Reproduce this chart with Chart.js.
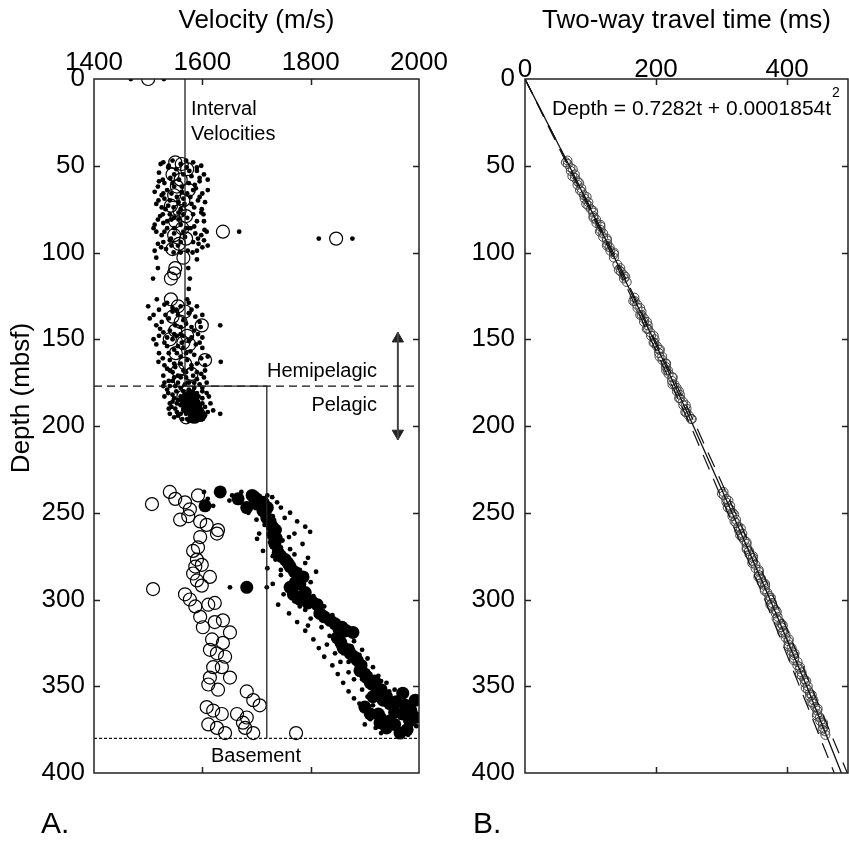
<!DOCTYPE html>
<html>
<head>
<meta charset="utf-8">
<script src="https://cdn.jsdelivr.net/npm/chart.js@4"></script>
<style>
  body { margin: 0; background: #fff; }
  #wrapA { position: absolute; left: 0; top: 0; width: 460px; height: 846px; }
  #wrapB { position: absolute; left: 440px; top: 0; width: 409px; height: 846px; }
</style>
</head>
<body>
<div id="wrapA"><canvas id="velChart" width="460" height="846"></canvas></div>
<div id="wrapB"><canvas id="twtChart" width="409" height="846"></canvas></div>
<script>
// ---- panel A data: [velocity m/s, depth mbsf] ----
var smallDots = [
  [1468,0],[1529,0],
  [1528,48],[1545,47],[1560,49],[1583,48],[1598,50],[1537,51],[1552,52],[1571,51],[1590,53],[1520,54],[1565,55],[1580,56],[1603,55],
  [1541,57],[1557,58],[1595,59],[1530,60],[1575,60],[1523,49],[1570,47],[1590,51],[1548,55],[1610,58],[1527,58],[1586,61],[1562,62],
  [1518,62],[1548,62],[1588,63],[1535,64],[1562,65],[1600,66],[1525,67],[1553,68],[1578,68],[1540,70],[1592,70],[1515,72],[1567,72],
  [1547,74],[1585,74],[1532,75],[1512,65],[1572,66],[1595,68],[1530,69],[1605,71],[1556,71],[1525,74],[1560,75],[1599,75],
  [1556,77],[1598,77],[1522,79],[1572,80],[1543,81],[1590,82],[1512,84],[1560,84],[1535,86],[1578,86],[1604,87],[1548,89],[1525,90],
  [1568,91],[1592,92],[1540,93],[1583,94],[1518,95],[1555,96],[1600,97],[1533,98],[1573,99],[1547,100],[1540,78],[1583,78],[1518,81],
  [1556,81],[1603,82],[1528,83],[1565,88],[1587,89],[1515,88],[1542,92],[1603,93],[1524,97],[1560,100],[1590,99],
  [1538,50],[1576,53],[1595,57],[1520,59],[1545,60],[1583,64],[1528,66],[1610,64],[1543,66],[1565,69],[1519,70],[1580,72],[1537,73],
  [1602,78],[1527,78],[1565,78],[1548,80],[1535,82],[1585,85],[1510,86],[1548,86],[1570,86],[1530,88],[1598,90],[1560,94],[1528,94],
  [1593,95],[1543,96],[1512,99],[1582,100],
  [1668,88],[1815,92],[1877,92],[1608,88],[1610,96],
  [1515,103],[1590,104],[1518,109],[1574,109],[1509,115],[1577,115],[1575,121],[1516,127],[1572,127],
  [1530,130],[1560,131],[1590,131],[1520,133],[1545,134],[1575,135],[1503,138],[1538,138],[1565,139],[1595,140],[1515,142],[1550,142],
  [1580,143],[1633,142],[1528,146],[1560,147],[1592,147],[1510,150],[1545,150],[1575,151],[1535,154],[1565,155],[1600,155],[1520,158],
  [1553,158],[1585,159],[1540,162],[1572,162],[1634,163],[1605,165],[1530,165],
  [1545,132],[1580,133],[1510,136],[1555,136],[1600,136],[1525,140],[1570,141],[1540,145],[1585,145],[1520,148],[1553,148],[1600,149],
  [1530,152],[1562,152],[1588,153],[1548,156],[1578,157],[1610,160],[1527,161],[1560,160],[1548,164],[1590,164],
  [1535,129],[1575,129],[1500,131],[1552,133],[1587,137],[1532,136],[1560,143],[1597,143],[1522,144],[1548,147],[1580,149],[1565,148],
  [1535,149],[1515,153],[1595,152],[1555,154],[1538,158],[1570,158],[1598,161],[1519,163],[1560,164],[1580,165],
  [1550,166],[1580,167],[1545,169],[1570,169],[1598,170],[1528,171],[1560,172],[1590,173],[1538,174],[1575,175],[1608,175],[1550,177],
  [1585,178],[1535,179],[1565,180],[1600,180],[1545,182],[1578,183],[1612,183],[1555,185],[1592,186],[1540,187],[1570,188],[1605,189],
  [1550,190],[1585,191],[1620,191],[1560,193],[1598,194],[1633,193],[1572,196],[1548,195],[1590,197],
  [1535,167],[1565,168],[1605,168],[1555,171],[1583,171],[1545,174],[1568,176],[1595,176],[1528,177],[1560,178],[1575,179],[1590,181],
  [1530,183],[1560,183],[1600,184],[1570,185],[1545,186],[1585,187],[1615,187],[1560,188],[1595,189],[1538,190],[1575,191],[1565,191],
  [1610,192],[1580,193],[1555,194],[1600,196],[1575,197],
  [1540,168],[1590,169],[1570,172],[1548,172],[1603,172],[1530,175],[1555,175],[1585,175],[1540,177],[1600,178],[1552,180],[1582,180],
  [1537,181],[1608,181],[1567,182],[1548,184],[1593,183],[1575,186],[1553,187],[1600,187],[1543,189],[1580,189],[1565,190],[1590,190],
  [1553,192],[1605,194],[1570,193],[1585,196],[1563,196],[1540,193],
  [1603,238],[1610,242],[1620,246],
  [1655,240],[1672,238],[1700,239],[1720,240],[1729,241],[1650,243],[1710,245],[1745,247],[1685,250],[1762,250],[1730,252],[1700,254],
  [1775,255],[1715,257],[1790,258],[1740,259],[1799,261],[1705,262],[1760,264],[1701,265],[1725,267],[1785,268],[1745,270],[1712,272],
  [1770,274],[1795,276],[1735,277],[1755,280],[1720,282],[1780,283],[1810,284],[1745,286],[1765,289],[1730,291],[1651,293],[1719,293],
  [1790,294],[1750,297],[1805,298],[1770,301],[1740,303],[1825,304],[1790,306],[1760,308],[1840,309],[1800,311],[1775,313],[1855,314],
  [1820,316],[1790,318],[1870,318],[1835,321],[1805,323],[1880,324],[1850,326],[1815,328],[1895,329],[1860,331],[1825,333],[1905,334],
  [1870,336],[1840,338],[1915,339],[1885,341],[1850,343],[1925,344],[1895,346],[1860,348],[1940,348],[1910,351],[1870,353],[1955,352],
  [1925,355],[1880,357],[1970,356],[1945,359],[1890,360],[1990,360],[1960,363],[1900,364],[1985,365],[1935,367],[1910,369],[1975,370],
  [1950,372],[1920,374],[1995,373],[1960,376],[1930,377],[1980,378],
  [1690,243],[1738,244],[1752,253],[1722,262],[1770,262],[1748,266],[1730,275],[1762,271],[1790,279],[1745,283],[1773,287],[1800,290],
  [1760,293],[1785,299],[1815,301],[1780,304],[1810,309],[1830,312],[1795,315],[1845,318],[1860,322],[1830,326],[1875,327],[1845,331],
  [1890,332],[1855,336],[1900,337],[1870,342],[1910,343],[1880,346],[1930,347],[1895,352],[1945,353],[1905,356],[1960,358],[1915,361],
  [1975,363],[1925,364],[1945,369],[1965,368],[1900,372],[1985,375]
];

var openCircles = [
  [1500,0],
  [1550,48],[1562,49],[1572,52],[1545,55],[1560,58],[1553,62],[1575,64],[1548,67],[1565,70],[1542,73],[1558,76],[1570,79],[1550,82],
  [1563,86],[1638,88],[1847,92],[1548,90],[1570,92],[1557,95],[1545,98],[1565,103],[1550,109],[1542,115],[1548,112],[1542,127],
  [1555,131],[1568,134],[1545,137],[1560,140],[1599,142],[1550,145],[1572,148],[1540,150],[1565,152],[1576,153],[1551,158],[1605,162],
  [1568,164],[1555,168],[1580,170],[1560,174],[1575,178],[1565,183],[1585,190],[1570,195],
  [1507,245],[1509,294],[1540,238],[1550,242],[1568,244],[1592,240],[1577,248],[1559,254],[1574,252],[1596,255],[1608,257],[1629,260],
  [1627,262],[1596,264],[1592,270],[1583,272],[1590,277],[1587,281],[1599,280],[1583,285],[1590,289],[1614,287],[1599,292],[1568,297],
  [1577,300],[1587,304],[1596,310],[1611,303],[1623,302],[1601,316],[1623,313],[1638,312],[1651,319],[1618,323],[1638,325],[1614,329],
  [1627,331],[1642,333],[1620,339],[1636,339],[1651,345],[1614,345],[1611,349],[1629,352],[1682,353],[1694,358],[1706,361],[1608,362],
  [1620,364],[1636,366],[1664,366],[1682,368],[1611,372],[1627,374],[1642,377],[1675,371],[1679,374],[1694,377],[1773,377]
];

var bigDots = [
  [1578,183],[1583,186],[1588,189],[1592,192],[1596,194],[1574,190],[1585,195],[1570,186],
  [1633,238],[1605,246],[1666,242],[1692,240],[1682,247],[1701,245],[1712,249],[1719,253],[1725,255],[1729,258],[1731,263],[1734,268],
  [1740,273],[1753,277],[1762,281],[1786,287],[1775,289],[1762,293],[1682,293],[1768,297],[1780,300],[1795,302],[1812,303],[1817,308],
  [1836,312],[1858,316],[1878,319],[1849,322],[1860,328],[1873,331],[1886,335],[1891,341],[1904,345],[1910,348],[1922,351],[1915,356],
  [1934,358],[1946,360],[1970,354],[1993,358],[1993,368],[1970,366],[1946,370],[1928,371],[1965,377],[1983,370],[1910,366],[1900,362],
  [1955,365],
  [1700,242],[1712,244],[1720,247],[1735,260],[1737,265],[1745,275],[1758,279],[1770,284],[1780,291],[1790,296],[1802,301],[1825,310],
  [1845,314],[1866,318],[1856,325],[1870,329],[1880,333],[1893,338],[1900,343],[1918,347],[1930,352],[1940,356],[1958,359],[1975,361],
  [1985,364],[1955,372],[1940,374],[1925,366],[1978,375]
];

// interval velocity steps and annotation lines
var intervalVel = [[1568,0],[1568,177],[1719,177],[1719,380]];
var hemiBoundary = [[1400,177],[2000,177]];
var basementLine = [[1400,380],[2000,380]];
var arrowShaft = [[1961,146],[1961,208]];
var arrowHeads = [[1961,149.7],[1961,204.3]];

// ---- panel B data ----
var twtDepth = [
  47,49,51,53,55,57,59,61,63,65,67,69,71,73,75,77,79,81,83,85,87,89,91,93,95,97,99,101,103,
  107,109,111,113,115,117,
  126,128,130,132,134,136,138,140,142,144,146,148,150,152,154,156,158,160,162,164,166,168,170,172,174,176,178,180,
  182,184,186,188,190,192,194,196,
  238,240,242,244,246,248,250,252,254,256,258,260,262,264,266,268,270,272,274,276,278,280,282,284,286,288,290,292,
  294,296,298,300,302,304,306,308,310,312,314,316,318,320,322,324,326,328,330,332,334,336,338,340,342,344,346,348,
  350,352,354,356,358,360,362,364,366,368,370,372,374,376,378,
  48,52,56,60,64,68,72,76,80,84,88,92,96,100,110,114,128,132,136,140,144,148,152,156,160,164,168,172,176,180,184,188,192,196,
  239,243,247,251,255,259,263,267,271,275,279,283,287,291,295,299,303,307,311,315,319,323,327,331,335,339,343,347,351,355,
  359,363,367,371,375
];
var twtTime = [
  64.8,65.4,69.3,69.9,76.0,76.3,80.2,80.1,86.0,86.5,89.9,91.1,96.7,96.6,100.6,104.0,104.6,108.5,109.1,115.2,115.5,119.3,119.2,
  125.2,125.7,129.1,130.3,135.9,135.7,
  141.0,145.5,146.2,150.6,151.0,155.2,
  167.0,167.4,171.2,171.7,177.8,178.0,181.7,181.6,187.4,187.8,191.2,192.3,197.8,197.5,201.3,204.4,204.6,209.3,209.8,214.6,
  214.9,218.2,219.2,224.6,224.4,228.1,231.4,231.8,236.5,236.9,241.1,241.6,246.6,246.3,250.1,253.3,
  303.0,303.4,307.1,307.4,313.3,313.3,316.9,316.5,322.1,322.4,325.5,326.4,331.7,331.3,335.0,338.1,338.4,342.0,342.6,347.7,
  348.2,351.7,351.9,357.2,356.9,360.3,361.2,366.5,366.1,369.8,372.9,373.2,377.1,377.3,382.2,382.7,385.7,386.2,391.5,391.0,
  394.6,397.6,397.8,401.8,402.5,406.9,407.3,410.3,410.9,416.1,415.7,419.2,422.2,422.5,426.4,427.2,431.5,431.8,434.7,435.2,
  440.3,439.7,443.1,446.0,446.2,450.0,450.6,454.8,455.1,458.1,458.5,
  62.4,72.9,72.3,82.8,83.8,94.0,93.5,104.0,104.5,114.9,114.3,124.8,125.0,135.7,143.1,153.1,165.2,175.7,175.9,186.2,185.8,196.5,
  196.2,206.0,205.3,215.4,215.5,225.6,225.0,235.0,235.2,245.3,244.6,254.6,
  300.5,310.5,309.5,319.4,319.8,329.4,328.4,338.2,338.2,348.0,346.8,356.7,356.3,366.5,365.9,375.4,374.4,384.3,383.9,393.6,
  392.7,402.8,402.0,411.4,410.3,420.0,419.7,429.4,428.4,437.7,437.2,446.7,445.4,454.8,454.1
];
// fitted curve and its bounds, read at these depths
var fitDepth = [0,50,100,150,200,250,300,350,400];
var fitTime = [0,67.5,132.8,196,257,316,374,430,483];
var boundDepth = [0,100,200,300,400];
var lowerTime = [0,130.8,253,366,472];
var upperTime = [0,134.8,261,381,492];

var FONT = '"Liberation Sans", Arial, Helvetica, sans-serif';
Chart.defaults.font.family = FONT;
Chart.defaults.color = '#000';

function pts(arr) { return arr.map(function (p) { return {x: p[0], y: p[1]}; }); }
function zip(xs, ys) { return xs.map(function (v, i) { return {x: v, y: ys[i]}; }); }

// frame with inward tick marks on all four sides
var frameTicks = {
  id: 'frameTicks',
  afterDraw: function (chart) {
    var ctx = chart.ctx, a = chart.chartArea, x = chart.scales.x, y = chart.scales.y;
    ctx.save();
    ctx.strokeStyle = '#222';
    ctx.lineWidth = 1.5;
    ctx.strokeRect(a.left, a.top, a.right - a.left, a.bottom - a.top);
    ctx.beginPath();
    x.ticks.forEach(function (t) {
      if (t.value <= x.min || t.value >= x.max) return;
      var px = Math.round(x.getPixelForValue(t.value)) + 0.5;
      ctx.moveTo(px, a.top); ctx.lineTo(px, a.top + 6);
      ctx.moveTo(px, a.bottom); ctx.lineTo(px, a.bottom - 6);
    });
    y.ticks.forEach(function (t) {
      if (t.value <= y.min || t.value >= y.max) return;
      var py = Math.round(y.getPixelForValue(t.value)) + 0.5;
      ctx.moveTo(a.left, py); ctx.lineTo(a.left + 6, py);
      ctx.moveTo(a.right, py); ctx.lineTo(a.right - 6, py);
    });
    ctx.stroke();
    ctx.restore();
  }
};

var textA = {
  id: 'textA',
  afterDraw: function (chart) {
    var ctx = chart.ctx, a = chart.chartArea;
    ctx.save();
    ctx.fillStyle = '#000';
    ctx.textBaseline = 'alphabetic';
    ctx.font = '26px ' + FONT;
    ctx.textAlign = 'center';
    ctx.fillText('Velocity (m/s)', (a.left + a.right) / 2, 28);
    ctx.save();
    ctx.translate(29, 398);
    ctx.rotate(-Math.PI / 2);
    ctx.fillText('Depth (mbsf)', 0, 0);
    ctx.restore();
    ctx.font = '20px ' + FONT;
    ctx.textAlign = 'left';
    ctx.fillText('Interval', 191, 115);
    ctx.fillText('Velocities', 191, 140);
    ctx.textAlign = 'right';
    ctx.fillText('Hemipelagic', 377, 377);
    ctx.fillText('Pelagic', 377, 411);
    ctx.textAlign = 'center';
    ctx.fillText('Basement', 256, 762);
    ctx.font = '30px ' + FONT;
    ctx.textAlign = 'left';
    ctx.fillText('A.', 41, 833);
    ctx.restore();
  }
};

var textB = {
  id: 'textB',
  afterDraw: function (chart) {
    var ctx = chart.ctx, a = chart.chartArea;
    ctx.save();
    ctx.fillStyle = '#000';
    ctx.textBaseline = 'alphabetic';
    ctx.font = '26px ' + FONT;
    ctx.textAlign = 'center';
    ctx.fillText('Two-way travel time (ms)', (a.left + a.right) / 2, 28);
    ctx.font = '21px ' + FONT;
    ctx.textAlign = 'left';
    var eq = 'Depth = 0.7282t + 0.0001854t';
    ctx.fillText(eq, 112, 115);
    var w = ctx.measureText(eq).width;
    ctx.font = '14px ' + FONT;
    ctx.fillText('2', 112 + w + 1, 97);
    ctx.font = '30px ' + FONT;
    ctx.fillText('B.', 33, 833);
    ctx.restore();
  }
};

function noPad(s) { s.paddingLeft = 0; s.paddingRight = 0; s.paddingTop = 0; s.paddingBottom = 0; }
function plain(v) { return String(v); }

function yAxis(width, pad) {
  return {
    type: 'linear', position: 'left', reverse: true, min: 0, max: 400,
    grid: {display: false, drawTicks: false}, border: {display: false},
    ticks: {stepSize: 50, padding: pad, font: {size: 26}, color: '#000', callback: plain},
    afterFit: function (s) { s.width = width; noPad(s); }
  };
}
function xAxis(min, max, pad) {
  return {
    type: 'linear', position: 'top', min: min, max: max,
    grid: {display: false, drawTicks: false}, border: {display: false},
    ticks: {stepSize: 200, padding: pad, includeBounds: false, font: {size: 26}, color: '#000', maxRotation: 0, callback: plain},
    afterFit: function (s) { s.height = 79; noPad(s); }
  };
}

var lineOpts = {showLine: true, pointRadius: 0, fill: false};

new Chart(document.getElementById('velChart'), {
  type: 'scatter',
  data: {
    datasets: [
      Object.assign({label: 'interval', data: pts(intervalVel), borderColor: '#222', borderWidth: 1.3, order: 1}, lineOpts),
      Object.assign({label: 'hemi', data: pts(hemiBoundary), borderColor: '#111', borderWidth: 1.3, borderDash: [8, 5], order: 2}, lineOpts),
      Object.assign({label: 'basement', data: pts(basementLine), borderColor: '#111', borderWidth: 1.3, borderDash: [3, 2], order: 2}, lineOpts),
      Object.assign({label: 'arrow', data: pts(arrowShaft), borderColor: '#444', borderWidth: 2, order: 2}, lineOpts),
      {label: 'heads', data: pts(arrowHeads), pointStyle: 'triangle', pointRadius: 6.5,
        rotation: function (c) { return c.dataIndex === 0 ? 0 : 180; },
        backgroundColor: '#222', borderColor: '#222', borderWidth: 1, order: 2},
      {label: 'open', data: pts(openCircles), pointRadius: 6.5, borderColor: '#000', borderWidth: 1.2,
        backgroundColor: 'rgba(0,0,0,0)', order: 3},
      {label: 'big', data: pts(bigDots), pointRadius: 6.5, borderWidth: 0, backgroundColor: '#000', order: 4},
      {label: 'dots', data: pts(smallDots), pointRadius: 2.4, borderWidth: 0, backgroundColor: '#000', order: 5}
    ]
  },
  options: {
    responsive: false,
    animation: false,
    events: [],
    layout: {padding: {left: 0, top: 0, right: 41, bottom: 73}, autoPadding: false},
    plugins: {legend: {display: false}, tooltip: {enabled: false}},
    scales: {x: xAxis(1400, 2000, 1), y: yAxis(94, 9)}
  },
  plugins: [frameTicks, textA]
});

new Chart(document.getElementById('twtChart'), {
  type: 'scatter',
  data: {
    datasets: [
      Object.assign({label: 'fit', data: zip(fitTime, fitDepth), borderColor: '#111', borderWidth: 1.3, order: 1}, lineOpts),
      Object.assign({label: 'lower', data: zip(lowerTime, boundDepth), borderColor: '#111', borderWidth: 1.2, borderDash: [16, 10], order: 2}, lineOpts),
      Object.assign({label: 'upper', data: zip(upperTime, boundDepth), borderColor: '#111', borderWidth: 1.2, borderDash: [16, 10], order: 2}, lineOpts),
      {label: 'twt', data: zip(twtTime, twtDepth), pointRadius: 4.5, borderColor: '#444', borderWidth: 1,
        backgroundColor: 'rgba(0,0,0,0)', order: 3}
    ]
  },
  options: {
    responsive: false,
    animation: false,
    events: [],
    layout: {padding: {left: 0, top: 0, right: 1, bottom: 73}, autoPadding: false},
    plugins: {legend: {display: false}, tooltip: {enabled: false}},
    scales: {x: xAxis(0, 493, -6), y: yAxis(85, 10)}
  },
  plugins: [frameTicks, textB]
});
</script>
</body>
</html>
